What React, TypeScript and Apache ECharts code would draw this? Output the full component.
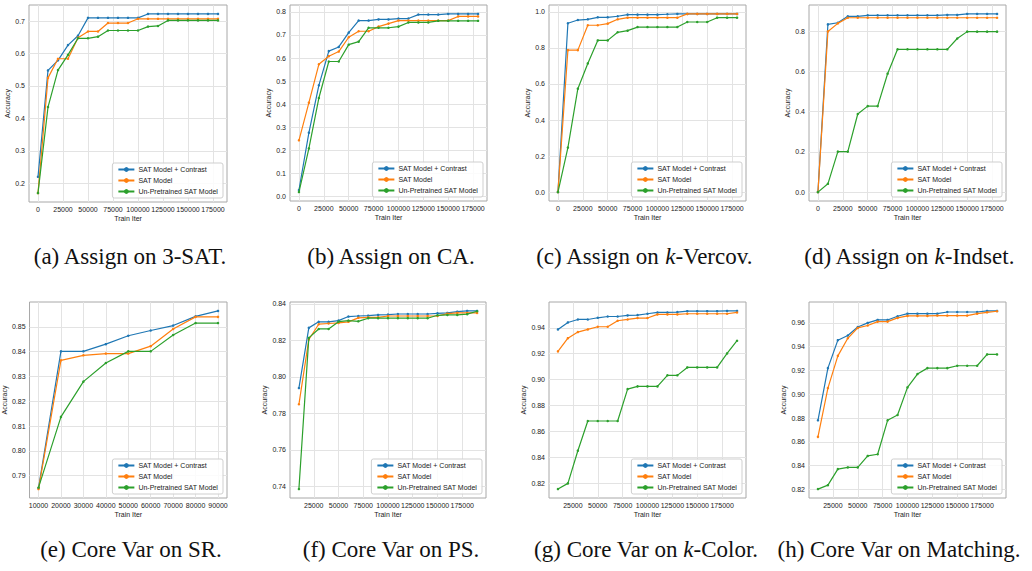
import React, { useEffect, useRef } from "react";
import * as echarts from "echarts";

// ---------- data ----------
const SERIES_NAMES = ["SAT Model + Contrast", "SAT Model", "Un-Pretrained SAT Model"];
const SERIES_COLORS = ["#1f77b4", "#ff7f0e", "#2ca02c"];

const itersTop = [0, 10000, 20000, 30000, 40000, 50000, 60000, 70000, 80000, 90000, 100000, 110000, 120000, 130000, 140000, 150000, 160000, 170000, 180000];
const itersSR = [10000, 20000, 30000, 40000, 50000, 60000, 70000, 80000, 90000];
const itersCore = [10000, 20000, 30000, 40000, 50000, 60000, 70000, 80000, 90000, 100000, 110000, 120000, 130000, 140000, 150000, 160000, 170000, 180000, 190000];

const xTicksTop = [0, 25000, 50000, 75000, 100000, 125000, 150000, 175000];
const xTicksSR = [10000, 20000, 30000, 40000, 50000, 60000, 70000, 80000, 90000];
const xTicksCore = [25000, 50000, 75000, 100000, 125000, 150000, 175000];

// (a) Assign on 3-SAT
const satContrast = [0.22, 0.548, 0.579, 0.626, 0.655, 0.71, 0.71, 0.71, 0.71, 0.71, 0.71, 0.722, 0.722, 0.722, 0.722, 0.722, 0.722, 0.722, 0.722];
const satModel = [0.17, 0.525, 0.584, 0.584, 0.649, 0.668, 0.668, 0.694, 0.694, 0.694, 0.707, 0.707, 0.707, 0.707, 0.707, 0.707, 0.707, 0.707, 0.707];
const satUn = [0.17, 0.435, 0.549, 0.596, 0.647, 0.647, 0.652, 0.671, 0.671, 0.671, 0.671, 0.683, 0.685, 0.702, 0.702, 0.702, 0.702, 0.702, 0.702];
const yTicksSat = [0.2, 0.3, 0.4, 0.5, 0.6, 0.7];

// (b) Assign on CA
const caContrast = [0.029, 0.277, 0.482, 0.63, 0.648, 0.71, 0.762, 0.762, 0.767, 0.767, 0.771, 0.771, 0.788, 0.788, 0.788, 0.791, 0.791, 0.791, 0.791];
const caModel = [0.244, 0.407, 0.573, 0.608, 0.628, 0.69, 0.716, 0.716, 0.736, 0.749, 0.762, 0.762, 0.762, 0.762, 0.762, 0.762, 0.78, 0.78, 0.78];
const caUn = [0.02, 0.209, 0.427, 0.585, 0.585, 0.658, 0.671, 0.731, 0.731, 0.731, 0.736, 0.754, 0.754, 0.754, 0.761, 0.761, 0.761, 0.761, 0.761];
const yTicksCa = [0.0, 0.1, 0.2, 0.3, 0.4, 0.5, 0.6, 0.7, 0.8];

// (c) Assign on k-Vercov
const vcContrast = [0, 0.937, 0.955, 0.959, 0.97, 0.97, 0.976, 0.985, 0.985, 0.985, 0.985, 0.987, 0.989, 0.989, 0.989, 0.989, 0.989, 0.989, 0.989];
const vcModel = [0, 0.788, 0.788, 0.926, 0.926, 0.935, 0.959, 0.968, 0.968, 0.968, 0.968, 0.968, 0.968, 0.989, 0.989, 0.989, 0.989, 0.989, 0.989];
const vcUn = [0, 0.247, 0.574, 0.714, 0.842, 0.842, 0.887, 0.896, 0.916, 0.916, 0.916, 0.916, 0.916, 0.944, 0.944, 0.944, 0.968, 0.968, 0.968];
const yTicksVc = [0.0, 0.2, 0.4, 0.6, 0.8, 1.0];

// (d) Assign on k-Indset
const isContrast = [0, 0.833, 0.841, 0.873, 0.873, 0.878, 0.878, 0.878, 0.878, 0.878, 0.878, 0.878, 0.878, 0.88, 0.88, 0.885, 0.885, 0.885, 0.885];
const isModel = [0, 0.798, 0.838, 0.866, 0.866, 0.866, 0.866, 0.866, 0.866, 0.866, 0.866, 0.866, 0.866, 0.866, 0.866, 0.866, 0.866, 0.866, 0.866];
const isUn = [0, 0.041, 0.201, 0.201, 0.388, 0.427, 0.427, 0.588, 0.709, 0.709, 0.709, 0.709, 0.709, 0.709, 0.763, 0.797, 0.797, 0.797, 0.797];
const yTicksIs = [0.0, 0.2, 0.4, 0.6, 0.8];

// (e) Core Var on SR
const srContrast = [0.785, 0.8401, 0.8401, 0.843, 0.8464, 0.8485, 0.8505, 0.8542, 0.8564];
const srModel = [0.7846, 0.8365, 0.8385, 0.8392, 0.8392, 0.8422, 0.8491, 0.854, 0.854];
const srUn = [0.7852, 0.8137, 0.8279, 0.8354, 0.8401, 0.8401, 0.8467, 0.8515, 0.8515];
const yTicksSr = [0.79, 0.8, 0.81, 0.82, 0.83, 0.84, 0.85];

// (f) Core Var on PS
const psContrast = [0.7939, 0.8269, 0.8302, 0.8302, 0.8309, 0.8331, 0.8334, 0.8336, 0.834, 0.8342, 0.8345, 0.8345, 0.8345, 0.8345, 0.8349, 0.8351, 0.8358, 0.8362, 0.8362];
const psModel = [0.785, 0.8205, 0.8289, 0.8293, 0.8296, 0.8302, 0.8324, 0.8327, 0.8327, 0.8334, 0.8334, 0.8334, 0.8334, 0.8334, 0.8334, 0.8347, 0.8351, 0.8351, 0.8351];
const psUn = [0.7385, 0.8214, 0.8263, 0.8263, 0.8303, 0.8309, 0.8305, 0.8322, 0.8322, 0.8322, 0.8322, 0.8322, 0.8322, 0.8322, 0.8338, 0.834, 0.834, 0.8344, 0.836];
const yTicksPs = [0.74, 0.76, 0.78, 0.8, 0.82, 0.84];

// (g) Core Var on k-Color
const kcContrast = [0.9387, 0.9441, 0.9464, 0.9464, 0.9477, 0.9487, 0.9487, 0.9495, 0.9498, 0.9508, 0.9518, 0.9518, 0.9521, 0.9528, 0.9528, 0.9528, 0.9528, 0.953, 0.953];
const kcModel = [0.9218, 0.932, 0.9367, 0.9387, 0.9408, 0.9408, 0.9454, 0.9464, 0.9475, 0.9475, 0.9503, 0.9503, 0.9503, 0.9508, 0.9508, 0.9508, 0.9508, 0.9508, 0.9518];
const kcUn = [0.8156, 0.82, 0.8452, 0.8681, 0.8681, 0.8681, 0.8681, 0.8927, 0.8948, 0.8948, 0.8948, 0.9033, 0.9033, 0.9094, 0.9094, 0.9094, 0.9094, 0.9202, 0.93];
const yTicksKc = [0.82, 0.84, 0.86, 0.88, 0.9, 0.92, 0.94];

// (h) Core Var on Matching
const mtContrast = [0.8781, 0.922, 0.9455, 0.9494, 0.9566, 0.96, 0.9625, 0.9625, 0.9656, 0.9678, 0.9678, 0.9678, 0.9678, 0.9692, 0.9692, 0.9692, 0.9692, 0.9701, 0.9701];
const mtModel = [0.8642, 0.9052, 0.9323, 0.9471, 0.9558, 0.9578, 0.9611, 0.9611, 0.9642, 0.9659, 0.9659, 0.9659, 0.9662, 0.9662, 0.9662, 0.9662, 0.9678, 0.9689, 0.9698];
const mtUn = [0.8203, 0.8236, 0.8371, 0.8385, 0.8385, 0.8482, 0.8496, 0.8781, 0.8826, 0.9058, 0.917, 0.922, 0.922, 0.922, 0.924, 0.924, 0.924, 0.9335, 0.9335];
const yTicksMt = [0.82, 0.84, 0.86, 0.88, 0.9, 0.92, 0.94, 0.96];

const captions = [
  ["(a) Assign on 3-SAT.", "", ""],
  ["(b) Assign on CA.", "", ""],
  ["(c) Assign on ", "k", "-Vercov."],
  ["(d) Assign on ", "k", "-Indset."],
  ["(e) Core Var on SR.", "", ""],
  ["(f) Core Var on PS.", "", ""],
  ["(g) Core Var on ", "k", "-Color."],
  ["(h) Core Var on Matching.", "", ""],
];

const panelData = [
  { x: itersTop, ys: [satContrast, satModel, satUn], xTicks: xTicksTop, yTicks: yTicksSat, dec: 1 },
  { x: itersTop, ys: [caContrast, caModel, caUn], xTicks: xTicksTop, yTicks: yTicksCa, dec: 1 },
  { x: itersTop, ys: [vcContrast, vcModel, vcUn], xTicks: xTicksTop, yTicks: yTicksVc, dec: 1 },
  { x: itersTop, ys: [isContrast, isModel, isUn], xTicks: xTicksTop, yTicks: yTicksIs, dec: 1 },
  { x: itersSR, ys: [srContrast, srModel, srUn], xTicks: xTicksSR, yTicks: yTicksSr, dec: 2 },
  { x: itersCore, ys: [psContrast, psModel, psUn], xTicks: xTicksCore, yTicks: yTicksPs, dec: 2 },
  { x: itersCore, ys: [kcContrast, kcModel, kcUn], xTicks: xTicksCore, yTicks: yTicksKc, dec: 2 },
  { x: itersCore, ys: [mtContrast, mtModel, mtUn], xTicks: xTicksCore, yTicks: yTicksMt, dec: 2 },
];

// ---------- layout ----------
const W = 1032;
const H = 571;
const gridBoxes = [
  { left: 29, top: 5, width: 198, height: 197, yGap: 17, cx: 130, cy: 256 },
  { left: 290, top: 5, width: 197, height: 196, yGap: 18, cx: 391, cy: 256 },
  { left: 549, top: 5, width: 197, height: 196, yGap: 16, cx: 644, cy: 256 },
  { left: 809, top: 5, width: 197, height: 196, yGap: 17, cx: 909, cy: 256 },
  { left: 29, top: 302, width: 198, height: 196, yGap: 21, cx: 131, cy: 549 },
  { left: 290, top: 302, width: 196, height: 196, yGap: 22, cx: 391, cy: 549 },
  { left: 549, top: 302, width: 197, height: 196, yGap: 21, cx: 646, cy: 549 },
  { left: 809, top: 302, width: 197, height: 196, yGap: 21, cx: 899, cy: 549 },
];

const FONT = "Liberation Sans";
const CAP_SIZE = 23;

function buildOption() {
  const grid: any[] = [];
  const xAxis: any[] = [];
  const yAxis: any[] = [];
  const series: any[] = [];
  const legend: any[] = [];
  const graphic: any[] = [];

  panelData.forEach((p, i) => {
    const g = gridBoxes[i];
    grid.push({
      left: g.left, top: g.top, width: g.width, height: g.height,
      show: true, borderColor: "#a8a8a8", borderWidth: 1, backgroundColor: "#fff",
    });
    const xMinD = Math.min(...p.x), xMaxD = Math.max(...p.x);
    const xPad = (xMaxD - xMinD) * 0.05;
    const all = p.ys.flat();
    const yMinD = Math.min(...all), yMaxD = Math.max(...all);
    const yPad = (yMaxD - yMinD) * 0.05;
    xAxis.push({
      type: "value", gridIndex: i,
      min: xMinD - xPad, max: xMaxD + xPad,
      name: "Train Iter", nameLocation: "middle", nameGap: 13,
      nameTextStyle: { fontSize: 7, color: "#222", fontFamily: FONT },
      axisLine: { show: false }, axisTick: { show: false, customValues: p.xTicks },
      axisLabel: { customValues: p.xTicks, fontSize: 7, color: "#222", margin: 4, fontFamily: FONT, formatter: (v: number) => String(Math.round(v)) },
      splitLine: { show: true, lineStyle: { color: "#e3e3e3", width: 1 } },
    });
    yAxis.push({
      type: "value", gridIndex: i,
      min: yMinD - yPad, max: yMaxD + yPad,
      name: "Accuracy", nameLocation: "middle", nameGap: g.yGap, nameRotate: 90,
      nameTextStyle: { fontSize: 7, color: "#222", fontFamily: FONT },
      axisLine: { show: false }, axisTick: { show: false, customValues: p.yTicks },
      axisLabel: { customValues: p.yTicks, fontSize: 7, color: "#222", margin: 4, fontFamily: FONT, formatter: (v: number) => v.toFixed(p.dec) },
      splitLine: { show: true, lineStyle: { color: "#e3e3e3", width: 1 } },
    });
    p.ys.forEach((ys, k) => {
      series.push({
        type: "line", name: SERIES_NAMES[k], xAxisIndex: i, yAxisIndex: i,
        data: p.x.map((xv, j) => [xv, ys[j]]),
        symbol: "circle", symbolSize: 2.5, showSymbol: true,
        lineStyle: { color: SERIES_COLORS[k], width: 1.2 },
        itemStyle: { color: SERIES_COLORS[k] },
        emphasis: { disabled: true }, z: 3 + k,
      });
    });
    legend.push({
      data: SERIES_NAMES, orient: "vertical",
      right: W - (g.left + g.width) + 4, bottom: H - (g.top + g.height) + 4,
      itemWidth: 16, itemHeight: 6, itemGap: 4,
      padding: [3, 5, 3, 5],
      borderColor: "#cfcfcf", borderWidth: 1, borderRadius: 2, backgroundColor: "rgba(255,255,255,0.85)",
      textStyle: { fontSize: 7, color: "#222", fontFamily: FONT, padding: [0, 0, 0, -1] },
      selectedMode: false,
    });
    const c = captions[i];
    graphic.push({
      type: "text", x: g.cx, y: g.cy,
      style: {
        text: "{n|" + c[0] + "}" + (c[1] ? "{i|" + c[1] + "}{n|" + c[2] + "}" : ""),
        textAlign: "center", textVerticalAlign: "middle",
        rich: {
          n: { fontFamily: "Liberation Serif", fontSize: CAP_SIZE, fill: "#111", color: "#111" },
          i: { fontFamily: "Liberation Serif", fontSize: CAP_SIZE, fontStyle: "italic", fill: "#111", color: "#111" },
        },
        fontFamily: "Liberation Serif", fontSize: CAP_SIZE, fill: "#111",
      },
    });
  });

  return {
    animation: false,
    backgroundColor: "#fff",
    textStyle: { fontFamily: FONT },
    grid, xAxis, yAxis, series, legend, graphic,
  };
}

export default function App() {
  const ref = useRef<HTMLDivElement>(null);
  useEffect(() => {
    if (!ref.current) return;
    const chart = echarts.init(ref.current, undefined, { renderer: "svg" });
    chart.setOption(buildOption() as any);
    return () => chart.dispose();
  }, []);
  return <div ref={ref} style={{ position: "absolute", left: 0, top: 0, width: W, height: H }} />;
}
